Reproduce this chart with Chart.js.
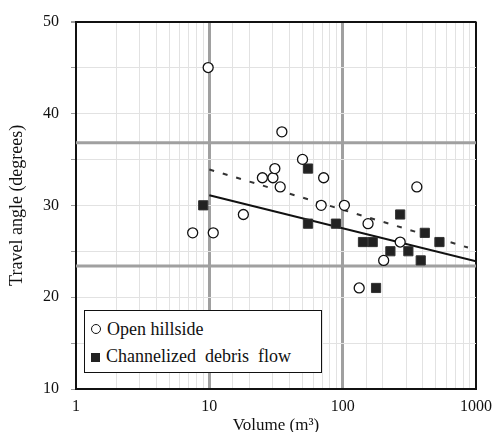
<!DOCTYPE html>
<html>
<head>
<meta charset="utf-8">
<script src="https://cdn.jsdelivr.net/npm/chart.js@4.4.1/dist/chart.umd.min.js"></script>
<style>
  body { margin: 0; background: #fff; }
  #wrap { position: relative; width: 500px; height: 432px; }
  #legend {
    position: absolute; left: 84px; top: 310px; width: 236px; height: 61px;
    border: 1.5px solid #111; background: #fff;
    font-family: 'Liberation Serif'; font-size: 18px; color: #111;
  }
  #legend .row { position: absolute; left: 6px; white-space: pre; line-height: 20px; }
  #legend .circ { display: inline-block; width: 8px; height: 8px; border: 1.3px solid #111; border-radius: 50%; margin-right: 6px; vertical-align: 1px; }
  #legend .sq { display: inline-block; width: 9px; height: 9px; background: #222; margin-right: 6px; vertical-align: 0px; }
</style>
</head>
<body>
<div id="wrap">
  <canvas id="grafico"></canvas>
  <div id="legend">
    <div class="row" style="top:8px"><span class="circ"></span>Open hillside</div>
    <div class="row" style="top:35px"><span class="sq"></span>Channelized  debris  flow</div>
  </div>
</div>
<script>
// valores
const openVolume = [9.8, 7.5, 10.7, 18, 25, 30, 31, 34, 35, 50, 72, 69, 103, 360, 155, 270, 203, 133];
const openAngle  = [45, 27, 27, 29, 33, 33, 34, 32, 38, 35, 33, 30, 30, 32, 28, 26, 24, 21];

const channelVolume = [9, 55, 55, 89, 270, 142, 168, 228, 311, 413, 532, 385, 178];
const channelAngle  = [30, 34, 28, 28, 29, 26, 26, 25, 25, 27, 26, 24, 21];

// linhas de tendencia (extremos)
const solidTrendX = [10, 1000];
const solidTrendY = [31.1, 23.9];
const dashedTrendX = [10, 870];
const dashedTrendY = [33.9, 25.4];

// linhas cinzas horizontais
const refAngles = [36.8, 23.4];
const refRangeX = [1, 1000];

const xTickLabels = [1, 10, 100, 1000];
const yTickLabels = [10, 20, 30, 40, 50];

function pares(xs, ys) {
    return xs.map((x, i) => ({ x: x, y: ys[i] }));
}

Chart.defaults.font.family = 'Liberation Serif';
Chart.defaults.color = '#111';

const datasets = [
    {
        label: 'Open hillside',
        data: pares(openVolume, openAngle),
        pointStyle: 'circle',
        pointRadius: 5,
        backgroundColor: '#fff',
        borderColor: '#111',
        borderWidth: 1.3,
        order: 1
    },
    {
        label: 'Channelized debris flow',
        data: pares(channelVolume, channelAngle),
        pointStyle: 'rect',
        pointRadius: 6.5,
        backgroundColor: '#222',
        borderColor: '#333',
        borderWidth: 1,
        order: 1
    },
    {
        data: pares(solidTrendX, solidTrendY),
        showLine: true,
        pointRadius: 0,
        borderColor: '#111',
        borderWidth: 2,
        order: 3
    },
    {
        data: pares(dashedTrendX, dashedTrendY),
        showLine: true,
        pointRadius: 0,
        borderColor: '#333',
        borderWidth: 2,
        borderDash: [5, 9],
        order: 3
    }
];

refAngles.forEach(a => {
    datasets.push({
        data: pares(refRangeX, [a, a]),
        showLine: true,
        pointRadius: 0,
        borderColor: '#a0a0a0',
        borderWidth: 3,
        order: 10
    });
});

new Chart(document.getElementById('grafico'), {
    type: 'scatter',
    data: { datasets: datasets },
    options: {
        responsive: true,
        maintainAspectRatio: false,
        animation: false,
        layout: { padding: { top: 19, right: 23, left: 0, bottom: 0 } },
        plugins: { legend: { display: false }, tooltip: { enabled: false } },
        scales: {
            x: {
                type: 'logarithmic',
                min: 1,
                max: 1000,
                afterFit: s => { s.height = 43; },
                border: { color: '#111', width: 2 },
                grid: {
                    drawTicks: false,
                    color: c => {
                        const v = c.tick && c.tick.value;
                        if (v === 1000) return '#111';
                        if (v === 10 || v === 100) return '#a0a0a0';
                        return '#e2e2e2';
                    },
                    lineWidth: c => {
                        const v = c.tick && c.tick.value;
                        if (v === 1000) return 2;
                        if (v === 10 || v === 100) return 3;
                        return 1;
                    }
                },
                ticks: {
                    autoSkip: false,
                    maxRotation: 0,
                    padding: 8,
                    font: { size: 16 },
                    callback: v => xTickLabels.includes(v) ? String(v) : ''
                },
                title: {
                    display: true,
                    text: 'Volume (m³)',
                    font: { size: 17 },
                    padding: { top: 0, bottom: -4 }
                }
            },
            y: {
                min: 10,
                max: 50,
                afterFit: s => { s.width = 76; },
                border: { color: '#111', width: 2 },
                grid: {
                    tickLength: 5,
                    tickColor: '#999',
                    color: c => (c.tick && c.tick.value === 50) ? '#111' : '#e2e2e2',
                    lineWidth: c => (c.tick && c.tick.value === 50) ? 2 : 1
                },
                ticks: {
                    stepSize: 5,
                    padding: 12,
                    font: { size: 16 },
                    callback: v => yTickLabels.includes(v) ? String(v) : ''
                },
                title: {
                    display: true,
                    text: 'Travel angle (degrees)',
                    font: { size: 18 },
                    padding: { top: 6, bottom: 0 }
                }
            }
        }
    }
});
</script>
</body>
</html>
